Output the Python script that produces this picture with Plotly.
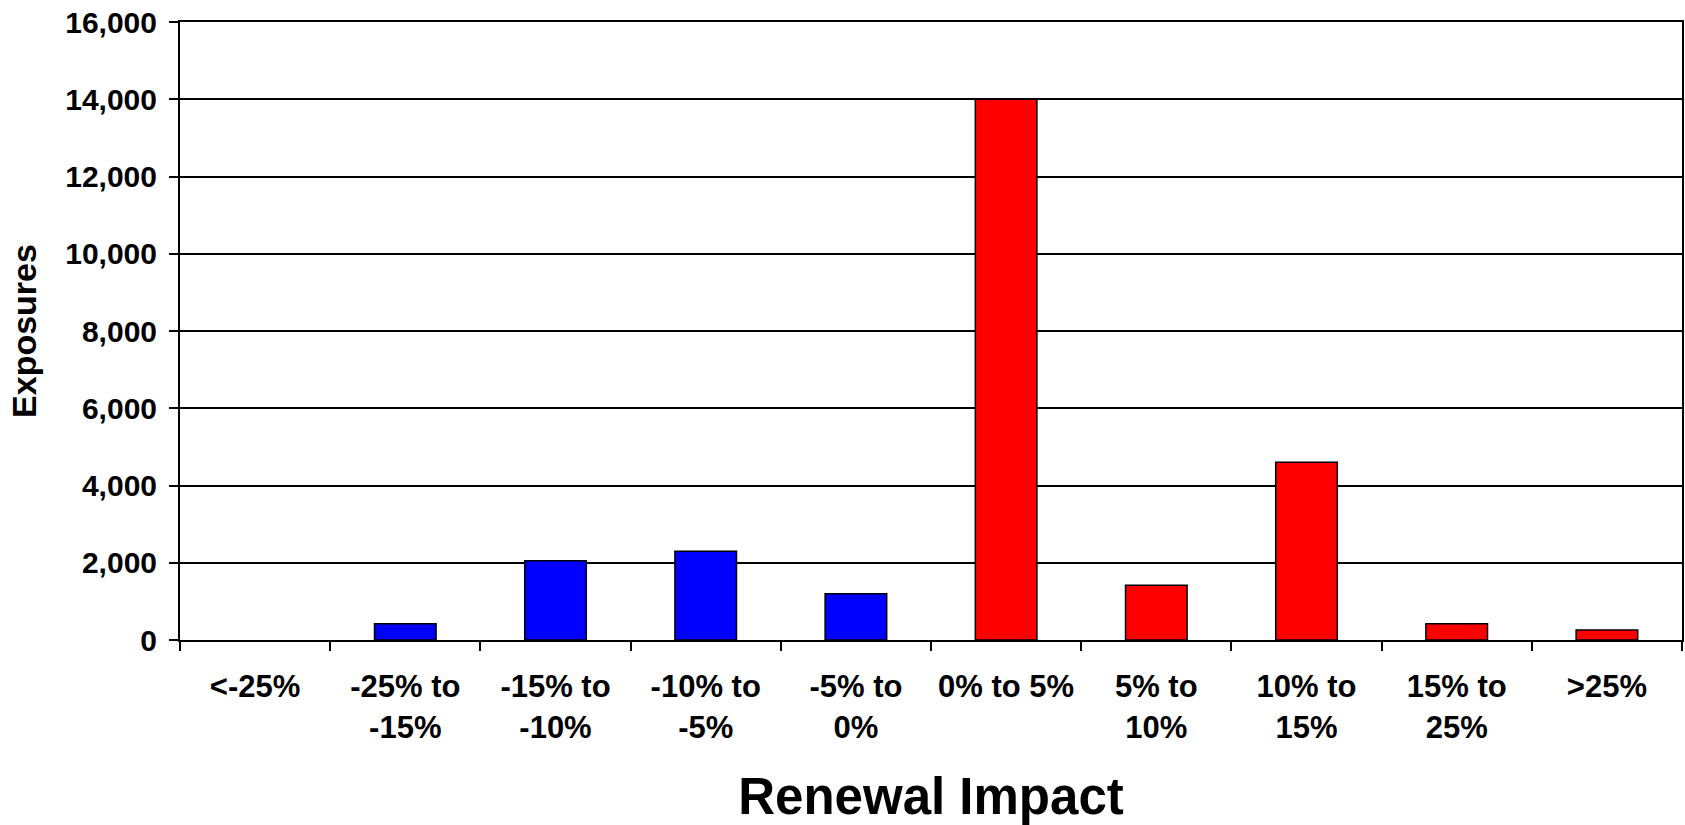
import plotly.graph_objects as go

# Renewal impact buckets and exposure counts
categories = ["<-25%", "-25% to<br>-15%", "-15% to<br>-10%", "-10% to<br>-5%", "-5% to<br>0%",
              "0% to 5%", "5% to<br>10%", "10% to<br>15%", "15% to<br>25%", ">25%"]
exposures = [0, 420, 2050, 2300, 1200, 14000, 1420, 4600, 420, 260]
bar_colors = ["#0000FF"] * 5 + ["#FF0000"] * 5
y_ticks = [0, 2000, 4000, 6000, 8000, 10000, 12000, 14000, 16000]

FONT = "Liberation Sans, Arial, sans-serif"

# empty buckets get no outline so nothing is drawn for them
outline_widths = [1.5 if v > 0 else 0 for v in exposures]

fig = go.Figure(
    go.Bar(
        x=categories,
        y=exposures,
        marker=dict(color=bar_colors, line=dict(color="black", width=outline_widths)),
        width=0.41,
        hoverinfo="x+y",
    )
)

fig.update_layout(
    width=1685,
    height=825,
    margin=dict(l=180, r=3, t=22, b=185),
    paper_bgcolor="white",
    plot_bgcolor="white",
    showlegend=False,
    font=dict(family=FONT, color="black"),
)

fig.update_xaxes(
    type="category",
    automargin=False,
    showline=True,
    linecolor="black",
    linewidth=2,
    mirror=True,
    ticks="outside",
    tickson="boundaries",
    ticklen=9,
    tickwidth=2,
    tickcolor="black",
    showgrid=False,
    ticklabelstandoff=18,
    tickfont=dict(family=FONT, size=31, color="black", weight="bold"),
    title=dict(text="<b>Renewal Impact</b>", font=dict(family=FONT, size=51, color="black"), standoff=47),
)

fig.update_yaxes(
    range=[0, 16000],
    automargin=False,
    tickvals=y_ticks,
    tickformat=",d",
    showline=True,
    linecolor="black",
    linewidth=2,
    mirror=True,
    ticks="outside",
    ticklen=9,
    tickwidth=2,
    tickcolor="black",
    showgrid=True,
    gridcolor="black",
    gridwidth=1.5,
    zeroline=False,
    ticklabelstandoff=6,
    tickfont=dict(family=FONT, size=30, color="black", weight="bold"),
    title=dict(text="<b>Exposures</b>", font=dict(family=FONT, size=34, color="black"), standoff=18),
)

fig.write_html("out.html")
